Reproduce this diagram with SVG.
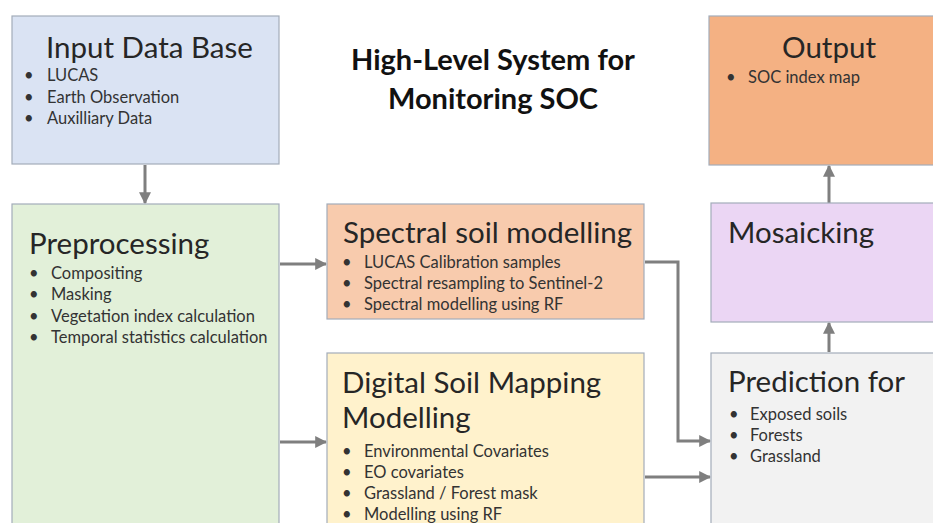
<svg xmlns="http://www.w3.org/2000/svg" width="933" height="523" viewBox="0 0 933 523">
  <defs>
    <marker id="arrow" viewBox="0 0 10 10" refX="9" refY="5" markerWidth="4" markerHeight="4" orient="auto" markerUnits="strokeWidth">
      <path d="M0,0 L10,5 L0,10 z" fill="#7f7f7f"/>
    </marker>
  </defs>
  <style>
    .box { stroke: #a3acb9; stroke-width: 1.2; }
    .head { font-family: Lato, "Open Sans", sans-serif; font-size: 29.5px; fill: #262626; }
    .item { font-family: Lato, "Open Sans", sans-serif; font-size: 16.5px; fill: #333333; }
    .title { font-family: Lato, "Open Sans", sans-serif; font-size: 29px; font-weight: bold; fill: #111111; text-anchor: middle; }
    .conn { fill: none; stroke: #7f7f7f; stroke-width: 3; marker-end: url(#arrow); }
  </style>
  <rect width="933" height="523" fill="#ffffff"/>

  <!-- heading -->
  <g id="title">
    <text class="title" x="493" y="70">High-Level System for</text>
    <text class="title" x="493" y="109">Monitoring SOC</text>
  </g>

  <!-- connectors -->
  <g id="connectors">
    <path class="conn" d="M145,165 V203"/>
    <path class="conn" d="M280,264 H326"/>
    <path class="conn" d="M280,442 H326"/>
    <path class="conn" d="M645,262 H678 V441 H710"/>
    <path class="conn" d="M645,477 H710"/>
    <path class="conn" d="M829,352 V323"/>
    <path class="conn" d="M829,203 V166"/>
  </g>

  <g id="input">
    <rect class="box" x="12" y="16" width="267" height="148" fill="#dae3f3" stroke="#9aa9c0"/>
    <text class="head" x="46" y="58">Input Data Base</text>
    <text class="item" x="24" y="81">•</text><text class="item" x="47" y="81">LUCAS</text>
    <text class="item" x="24" y="103">•</text><text class="item" x="47" y="103">Earth Observation</text>
    <text class="item" x="24" y="124">•</text><text class="item" x="47" y="124">Auxilliary Data</text>
  </g>

  <g id="preprocessing">
    <rect class="box" x="12" y="204" width="267" height="330" fill="#e2f0d9"/>
    <text class="head" x="29" y="254">Preprocessing</text>
    <text class="item" x="29" y="279">•</text><text class="item" x="51" y="279">Compositing</text>
    <text class="item" x="29" y="300">•</text><text class="item" x="51" y="300">Masking</text>
    <text class="item" x="29" y="322">•</text><text class="item" x="51" y="322">Vegetation index calculation</text>
    <text class="item" x="29" y="343">•</text><text class="item" x="51" y="343">Temporal statistics calculation</text>
  </g>

  <g id="spectral">
    <rect class="box" x="327" y="204" width="317" height="115" fill="#f8cbad"/>
    <text class="head" x="343" y="243">Spectral soil modelling</text>
    <text class="item" x="342" y="268">•</text><text class="item" x="364" y="268">LUCAS Calibration samples</text>
    <text class="item" x="342" y="289">•</text><text class="item" x="364" y="289">Spectral resampling to Sentinel-2</text>
    <text class="item" x="342" y="310">•</text><text class="item" x="364" y="310">Spectral modelling using RF</text>
  </g>

  <g id="dsm">
    <rect class="box" x="327" y="353" width="317" height="180" fill="#fff2cc"/>
    <text class="head" x="342" y="393">Digital Soil Mapping</text>
    <text class="head" x="342" y="428">Modelling</text>
    <text class="item" x="342" y="457">•</text><text class="item" x="364" y="457">Environmental Covariates</text>
    <text class="item" x="342" y="478">•</text><text class="item" x="364" y="478">EO covariates</text>
    <text class="item" x="342" y="499">•</text><text class="item" x="364" y="499">Grassland / Forest mask</text>
    <text class="item" x="342" y="520">•</text><text class="item" x="364" y="520">Modelling using RF</text>
  </g>

  <g id="output">
    <rect class="box" x="709" y="16" width="240" height="149" fill="#f4b183"/>
    <text class="head" x="782" y="58">Output</text>
    <text class="item" x="726" y="83">•</text><text class="item" x="748" y="83">SOC index map</text>
  </g>

  <g id="mosaicking">
    <rect class="box" x="711" y="203" width="240" height="119" fill="#ebd6f4"/>
    <text class="head" x="728" y="243">Mosaicking</text>
  </g>

  <g id="prediction">
    <rect class="box" x="711" y="353" width="240" height="180" fill="#f2f2f2"/>
    <text class="head" x="728" y="392">Prediction for</text>
    <text class="item" x="729" y="420">•</text><text class="item" x="750" y="420">Exposed soils</text>
    <text class="item" x="729" y="441">•</text><text class="item" x="750" y="441">Forests</text>
    <text class="item" x="729" y="462">•</text><text class="item" x="750" y="462">Grassland</text>
  </g>
</svg>
